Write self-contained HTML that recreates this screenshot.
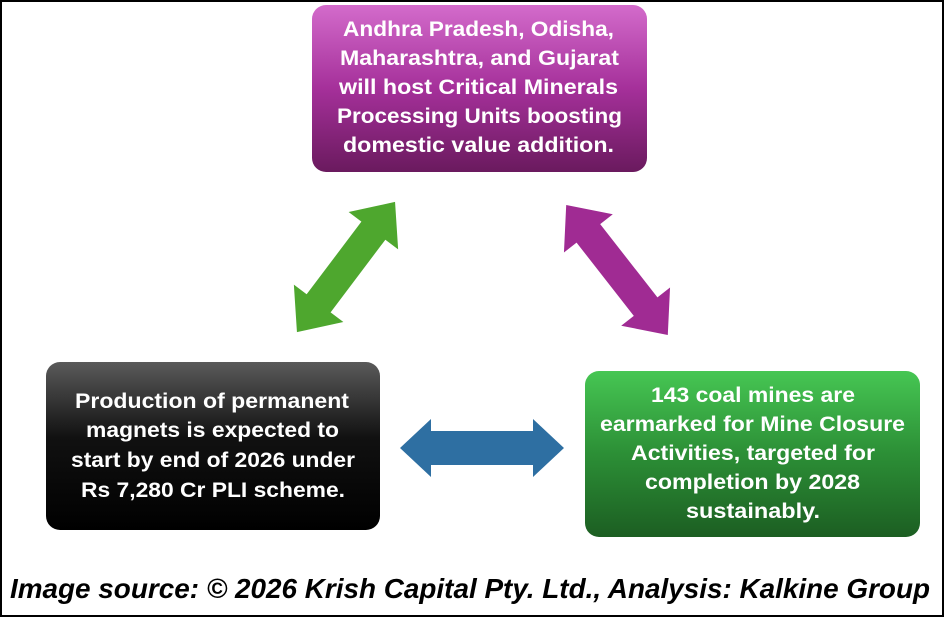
<!DOCTYPE html>
<html><head><meta charset="utf-8"><style>
html,body{margin:0;padding:0;background:#fff;}
svg{display:block;}
text{font-family:"Liberation Sans",sans-serif;font-weight:bold;}
</style></head><body>
<svg width="944" height="618" viewBox="0 0 944 618" xmlns="http://www.w3.org/2000/svg">
<defs>
<linearGradient id="gp" x1="0" y1="0" x2="0" y2="1"><stop offset="0" stop-color="#d36bcb"/><stop offset="0.5" stop-color="#a5309a"/><stop offset="1" stop-color="#6a1a5e"/></linearGradient>
<linearGradient id="gk" x1="0" y1="0" x2="0" y2="1"><stop offset="0" stop-color="#5a5a5a"/><stop offset="0.45" stop-color="#111"/><stop offset="1" stop-color="#000"/></linearGradient>
<linearGradient id="gg" x1="0" y1="0" x2="0" y2="1"><stop offset="0" stop-color="#46c653"/><stop offset="0.5" stop-color="#2c8f36"/><stop offset="1" stop-color="#1c5e22"/></linearGradient>
</defs>
<rect x="1" y="1" width="942" height="615" fill="#fff" stroke="#000" stroke-width="2"/>

<rect x="312" y="5" width="335" height="167" rx="14" fill="url(#gp)"/>
<g fill="#fff" font-size="21" text-anchor="start">
<text x="343" y="36" textLength="271" lengthAdjust="spacingAndGlyphs">Andhra Pradesh, Odisha,</text>
<text x="340" y="65" textLength="279" lengthAdjust="spacingAndGlyphs">Maharashtra, and Gujarat</text>
<text x="339" y="94" textLength="279" lengthAdjust="spacingAndGlyphs">will host Critical Minerals</text>
<text x="337" y="123" textLength="285" lengthAdjust="spacingAndGlyphs">Processing Units boosting</text>
<text x="343" y="152" textLength="271" lengthAdjust="spacingAndGlyphs">domestic value addition.</text>
</g>

<rect x="46" y="362" width="334" height="168" rx="14" fill="url(#gk)"/>
<g fill="#fff" font-size="21">
<text x="75" y="408" textLength="274" lengthAdjust="spacingAndGlyphs">Production of permanent</text>
<text x="86" y="437" textLength="253" lengthAdjust="spacingAndGlyphs">magnets is expected to</text>
<text x="71" y="467" textLength="284" lengthAdjust="spacingAndGlyphs">start by end of 2026 under</text>
<text x="81" y="497" textLength="264" lengthAdjust="spacingAndGlyphs">Rs 7,280 Cr PLI scheme.</text>
</g>

<rect x="585" y="371" width="335" height="166" rx="14" fill="url(#gg)"/>
<g fill="#fff" font-size="21">
<text x="651" y="402" textLength="204" lengthAdjust="spacingAndGlyphs">143 coal mines are</text>
<text x="600" y="431" textLength="305" lengthAdjust="spacingAndGlyphs">earmarked for Mine Closure</text>
<text x="631" y="460" textLength="244" lengthAdjust="spacingAndGlyphs">Activities, targeted for</text>
<text x="645" y="489" textLength="215" lengthAdjust="spacingAndGlyphs">completion by 2028</text>
<text x="686" y="518" textLength="134" lengthAdjust="spacingAndGlyphs">sustainably.</text>
</g>

<g transform="translate(346,267) rotate(-53)">
<polygon fill="#4ea72e" points="-81.5,0 -45.5,-31 -45.5,-15 45.5,-15 45.5,-31 81.5,0 45.5,31 45.5,15 -45.5,15 -45.5,31"/>
</g>
<g transform="translate(617,270) rotate(52)">
<polygon fill="#a02b93" points="-82.5,0 -46.5,-31 -46.5,-15 46.5,-15 46.5,-31 82.5,0 46.5,31 46.5,15 -46.5,15 -46.5,31"/>
</g>
<g transform="translate(482,448)">
<polygon fill="#2e6fa2" points="-82,0 -51,-29 -51,-17 51,-17 51,-29 82,0 51,29 51,17 -51,17 -51,29"/>
</g>

<text x="10" y="598" font-size="28" font-style="italic" fill="#000" textLength="920" lengthAdjust="spacingAndGlyphs">Image source: © 2026 Krish Capital Pty. Ltd., Analysis: Kalkine Group</text>
</svg>
</body></html>
